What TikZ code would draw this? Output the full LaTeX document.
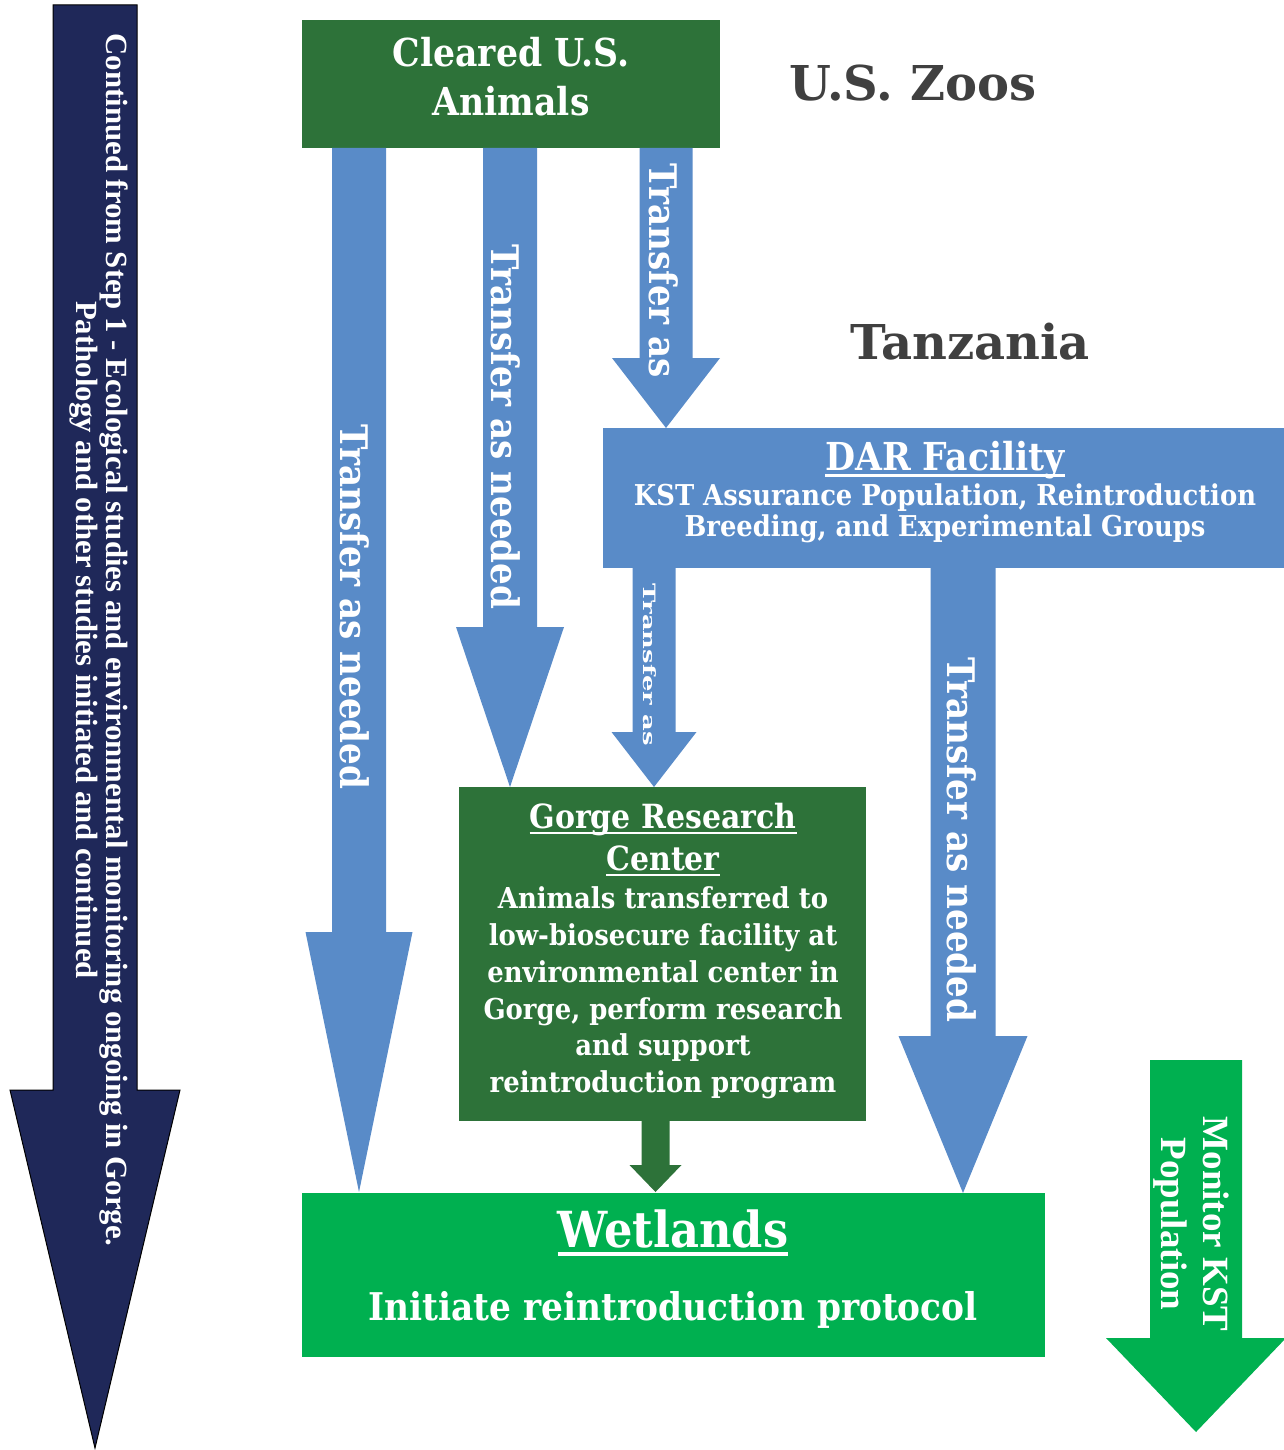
\documentclass[tikz,border=0pt]{standalone}
\usepackage{fontspec}
\newfontfamily\camb{DejaVu Serif}[FakeStretch=0.9]
\newfontfamily\cambw{DejaVu Serif}
\newfontfamily\tms{Liberation Serif}
\definecolor{dgreen}{RGB}{45,114,57}
\definecolor{lblue}{RGB}{89,139,200}
\definecolor{navy}{RGB}{31,40,89}
\definecolor{bgreen}{RGB}{0,176,80}
\definecolor{tgray}{RGB}{64,64,64}
\newcommand\barrow[7]{%
  \path[#1] ({#2-#6},#3) -- ({#2+#6},#3) -- ({#2+#6},#4) -- ({#2+#7},#4) -- (#2,#5) -- ({#2-#7},#4) -- ({#2-#6},#4) -- cycle;}
\newcommand\myul[1]{\setbox0\hbox{#1}\rlap{\rule[-0.17em]{\wd0}{0.075em}}\box0}
\begin{document}
\begin{tikzpicture}[x=1pt,y=-1pt,
  wtxt/.style={text=white, font=\camb\bfseries, align=center, inner sep=0pt},
  vtxt/.style={text=white, font=\camb\bfseries\fontsize{38}{44}\selectfont, rotate=-90, inner sep=0pt},
  country/.style={text=tgray, font=\cambw\bfseries\fontsize{48}{56}\selectfont, inner sep=0pt}]
\useasboundingbox (0,0) rectangle (1284,1450);
% navy arrow
\barrow{fill=navy, draw=black, line width=1pt}{95}{5}{1090}{1448}{42}{85}
\node[text=white, font=\tms\bfseries\fontsize{30.8}{28}\selectfont, rotate=-90, align=center, inner sep=0pt] (cont) at (99,640)
  {Continued from Step 1 - Ecological studies and environmental monitoring ongoing in Gorge.\\Pathology and other studies initiated and continued};
% boxes
\fill[dgreen] (302,20) rectangle (720,148);
\node[wtxt, font=\camb\bfseries\fontsize{38.5}{49}\selectfont] (cleared) at (511,77) {Cleared U.S.\\Animals};
\node[country] (zoos) at (913,83) {U.S. Zoos};
\node[country] (tz) at (970,342) {Tanzania};
% blue arrows from cleared
\barrow{fill=lblue}{359}{148}{932}{1192}{27}{53.5}
\node[vtxt] (t1) at (355,607) {Transfer as needed};
\barrow{fill=lblue}{510}{148}{627}{787}{27}{54}
\node[vtxt] (t2) at (506,427) {Transfer as needed};
\barrow{fill=lblue}{666}{148}{358}{428}{26.5}{54}
\node[vtxt, anchor=west] (t3) at (664,163) {Transfer as};
% DAR box
\fill[lblue] (603,428) rectangle (1284,568);
\node[wtxt, font=\camb\bfseries\fontsize{38.5}{40}\selectfont] (dar) at (945,460) {\myul{DAR Facility}};
\node[wtxt, font=\camb\bfseries\fontsize{28.7}{31}\selectfont] (dart) at (945,513) {KST Assurance Population, Reintroduction\\Breeding, and Experimental Groups};
% arrows from DAR
\barrow{fill=lblue}{654}{568}{732}{787}{21.5}{42.5}
\node[vtxt, font=\camb\bfseries\fontsize{17}{20}\selectfont, anchor=west] (t4) at (650,583) {\scalebox{1.69}[1]{Transfer as}};
\barrow{fill=lblue}{963}{568}{1036}{1193}{32.5}{64.5}
\node[vtxt] (t5) at (962,840) {Transfer as needed};
% Gorge box
\fill[dgreen] (459,787) rectangle (866,1121);
\node[wtxt, font=\camb\bfseries\fontsize{33.3}{42}\selectfont] (gorge) at (663,840) {\myul{Gorge Research}\\\myul{Center}};
\node[wtxt, font=\camb\bfseries\fontsize{28.8}{36.8}\selectfont] (gorget) at (663,993) {Animals transferred to\\low-biosecure facility at\\environmental center in\\Gorge, perform research\\and support\\reintroduction program};
\barrow{fill=dgreen}{655.5}{1121}{1165}{1192}{14}{26}
% Wetlands
\fill[bgreen] (302,1193) rectangle (1045,1357);
\node[wtxt, font=\camb\bfseries\fontsize{49.7}{52}\selectfont] (wet) at (673,1233) {\myul{Wetlands}};
\node[wtxt, font=\camb\bfseries\fontsize{38.2}{42}\selectfont] (wett) at (673,1310) {Initiate reintroduction protocol};
% monitor arrow
\barrow{fill=bgreen}{1196}{1060}{1338}{1432}{46}{90}
\node[text=white, font=\tms\bfseries\fontsize{37}{42}\selectfont, rotate=-90, align=center, inner sep=0pt] (mon) at (1191,1224) {Monitor KST\\Population};
\end{tikzpicture}
\end{document}
